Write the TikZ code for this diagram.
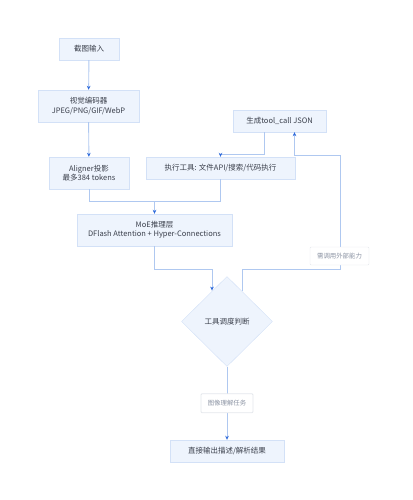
\documentclass[tikz,border=0pt]{standalone}
\usepackage{fontspec}
\setmainfont{Noto Sans CJK SC}
\usetikzlibrary{shapes.geometric,arrows.meta}
\definecolor{boxfill}{HTML}{EEF4FD}
\definecolor{boxline}{HTML}{D3E1F7}
\definecolor{wire}{HTML}{AFC8F0}
\definecolor{tipblue}{HTML}{2F6BDB}
\definecolor{txt}{HTML}{3A3F4B}
\definecolor{lbltxt}{HTML}{8B93A3}
\definecolor{lblline}{HTML}{E4E7EC}
\begin{document}
\begin{tikzpicture}[x=1pt,y=-1pt,
   box/.style={draw=boxline,fill=boxfill,text=txt,align=center,inner sep=1pt,
      font=\fontsize{7.5}{9.3}\selectfont},
   dec/.style={diamond,draw=boxline,fill=boxfill,text=txt,inner sep=0pt,
      minimum width=91pt,minimum height=90pt,font=\fontsize{7.5}{9.3}\selectfont},
   lbl/.style={draw=lblline,fill=white,text=lbltxt,rounded corners=1pt,inner sep=1pt,
      font=\fontsize{6.4}{8}\selectfont},
   wire/.style={draw=wire,line width=0.9pt},
   flow/.style={wire,-{Stealth[length=4pt,width=3.6pt,color=tipblue]}}]
   \useasboundingbox (0,0) rectangle (412,500);
   % boxes
   \node[box,minimum width=60pt,minimum height=22pt] (shot) at (89,49) {截图输入};
   \node[box,minimum width=101pt,minimum height=32pt] (enc) at (88.5,106) {视觉编码器\\JPEG/PNG/GIF/WebP};
   \node[box,minimum width=80pt,minimum height=32pt] (align) at (89,173) {Aligner投影\\最多384 tokens};
   \node[box,minimum width=149pt,minimum height=22pt] (exec) at (220.5,168) {执行工具: 文件API/搜索/代码执行};
   \node[box,minimum width=93pt,minimum height=22pt] (json) at (279.5,121) {生成tool\_call JSON};
   \node[box,minimum width=155pt,minimum height=32pt] (moe) at (154.5,230) {MoE推理层\\DFlash Attention + Hyper-Connections};
   \node[dec] (judge) at (227,321.5) {工具调度判断};
   \node[box,minimum width=114pt,minimum height=22pt] (out) at (227,451) {直接输出描述/解析结果};
   % joints
   \coordinate (mj) at (154.5,201);
   \coordinate (dj) at (212,269);
   \coordinate (rj) at (242,269);
   \coordinate (rt) at (340,155);
   % connectors
   \draw[flow] (shot) -- (enc);
   \draw[flow] (enc) -- (align);
   \draw[wire] (align.south) |- (mj);
   \draw[wire] (exec.south) |- (mj);
   \draw[flow] (mj) -- (moe.north);
   \draw[wire] (moe.south) |- (dj);
   \draw[flow] (dj) -- (dj |- judge.115);
   \draw[wire] (rj |- judge.65) -- (rj) -- (rj -| rt) -- (rt);
   \draw[flow] (rt) -| ([xshift=15pt]json.south);
   \draw[flow] ([xshift=-15pt]json.south) |- ([yshift=2pt]exec.north) -- (exec.north);
   \draw[flow] (judge.south) -- (out.north) node[lbl,midway,minimum width=52pt,minimum height=19pt] (task) {图像理解任务};
   \node[lbl,minimum width=59pt,minimum height=18pt] (ext) at (339.5,256) {需调用外部能力};
\end{tikzpicture}
\end{document}
